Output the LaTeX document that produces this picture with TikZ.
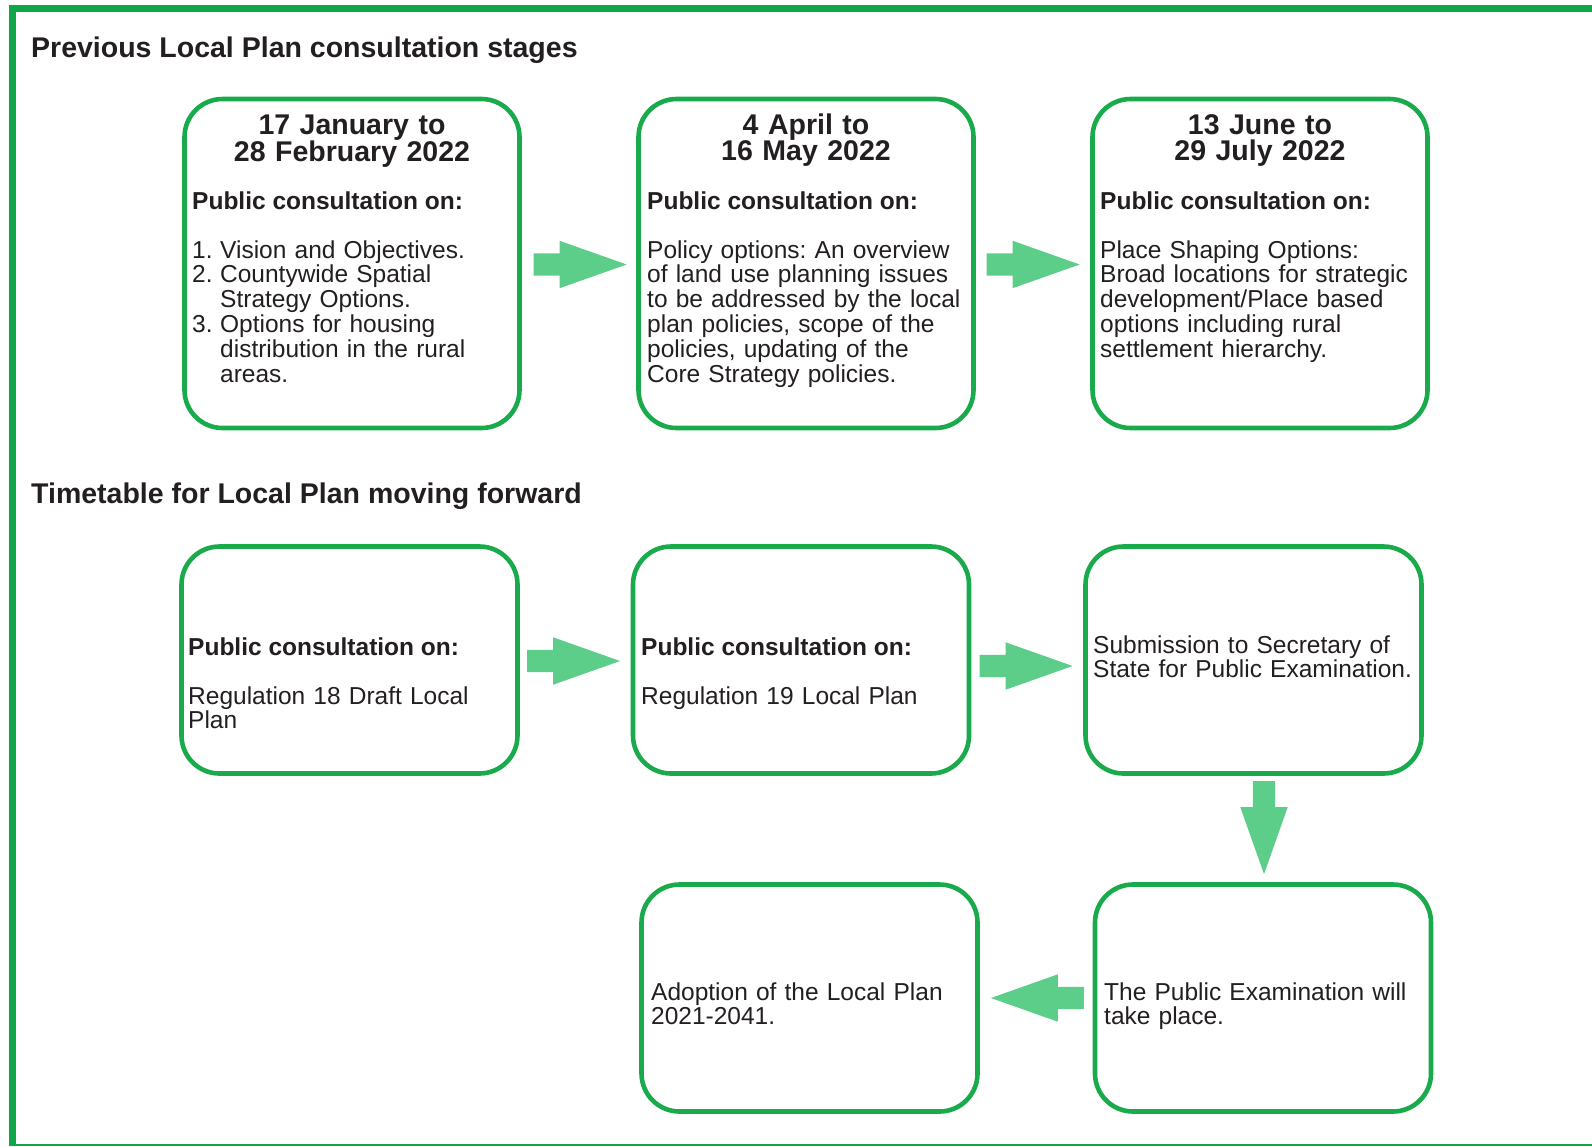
\documentclass[tikz,border=0pt]{standalone}
\usepackage{fontspec}
\setmainfont{Liberation Sans}
\usetikzlibrary{shapes.arrows,calc}
\definecolor{framegreen}{RGB}{14,166,72}
\definecolor{boxgreen}{RGB}{25,170,75}
\definecolor{arrowgreen}{RGB}{92,206,138}
\definecolor{txtc}{RGB}{35,31,32}
\tikzset{
  stagebox/.style={draw=boxgreen, line width=4.6pt, rounded corners=38pt, inner sep=0pt, fill=white},
  sectitle/.style={anchor=base west, inner sep=0pt, text=txtc, font=\bfseries\fontsize{28.5}{30}\selectfont},
  datehead/.style={anchor=base, inner sep=0pt, text=txtc, text width=330pt, align=center, font=\bfseries\fontsize{28.5}{26}\selectfont},
  leadtxt/.style={anchor=base west, inner sep=0pt, text=txtc, font=\bfseries\fontsize{24.5}{24.8}\selectfont},
  bodytxt/.style={anchor=base west, inner sep=0pt, text=txtc, text width=345pt, align=left, font=\frenchspacing\fontsize{24.5}{24.8}\selectfont},
  blockarrow/.style={single arrow, fill=arrowgreen, draw=none, inner sep=0pt, minimum height=93pt, single arrow head extend=12.5pt, single arrow tip angle=39, anchor=tip}
}
\begin{document}
\begin{tikzpicture}[x=1pt,y=-1pt]
\useasboundingbox (0,0) rectangle (1592,1146);
% frame
\draw[framegreen, line width=6.5pt] (12.5,1146) -- (12.5,8.5) -- (1592,8.5);
\draw[framegreen, line width=2pt] (12.5,1145) -- (1592,1145);

% section titles
\node[sectitle] (h1) at (31,57) {Previous Local Plan consultation stages};
\node[sectitle] (h2) at (31,503) {Timetable for Local Plan moving forward};

% row 1 boxes
\node[stagebox, minimum width=335pt, minimum height=329pt] (b1) at (352,263.5) {};
\node[stagebox, minimum width=335pt, minimum height=329pt] (b2) at (806,263.5) {};
\node[stagebox, minimum width=335pt, minimum height=329pt] (b3) at (1260,263.5) {};

% row 2 boxes
\node[stagebox, minimum width=336pt, minimum height=227pt] (b4) at (349.5,660) {};
\node[stagebox, minimum width=336pt, minimum height=227pt] (b5) at (801,660) {};
\node[stagebox, minimum width=336pt, minimum height=227pt] (b6) at (1253.5,660) {};

% row 3 boxes
\node[stagebox, minimum width=336pt, minimum height=227pt] (b7) at (809.5,998) {};
\node[stagebox, minimum width=336pt, minimum height=227pt] (b8) at (1263,998) {};

% row 1 texts
\node[datehead] (d1) at (352,134) {17 January to\\28 February 2022};
\node[datehead] (d2) at (806,134) {4 April to\\16 May 2022};
\node[datehead] (d3) at (1260,134) {13 June to\\29 July 2022};

\node[leadtxt] (p1) at (192,209) {Public consultation on:};
\node[leadtxt] (p2) at (647,209) {Public consultation on:};
\node[leadtxt] (p3) at (1100,209) {Public consultation on:};

\node[bodytxt] (x1) at (192,258) {\makebox[28pt][l]{1.}Vision and Objectives.\\
\makebox[28pt][l]{2.}Countywide Spatial\\
\hspace*{28pt}Strategy Options.\\
\makebox[28pt][l]{3.}Options for housing\\
\hspace*{28pt}distribution in the rural\\
\hspace*{28pt}areas.};
\node[bodytxt] (x2) at (647,258) {Policy options: An overview\\of land use planning issues\\to be addressed by the local\\plan policies, scope of the\\policies, updating of the\\Core Strategy policies.};
\node[bodytxt] (x3) at (1100,258) {Place Shaping Options:\\Broad locations for strategic\\development/Place based\\options including rural\\settlement hierarchy.};

% row 2 texts
\node[leadtxt] (p4) at (188,655) {Public consultation on:};
\node[bodytxt] (x4) at (188,704) {Regulation 18 Draft Local\\Plan};
\node[leadtxt] (p5) at (641,655) {Public consultation on:};
\node[bodytxt] (x5) at (641,704) {Regulation 19 Local Plan};
\node[bodytxt] (x6) at (1093,653) {Submission to Secretary of\\State for Public Examination.};

% row 3 texts
\node[bodytxt] (x7) at (651,1000) {Adoption of the Local Plan\\2021-2041.};
\node[bodytxt] (x8) at (1104,1000) {The Public Examination will\\take place.};

% block arrows (placed by their tips, short of the target box)
\node[blockarrow] (a1) at ($(b2.west)+(-9,1)$) {\rule{0pt}{22pt}};
\node[blockarrow] (a2) at ($(b3.west)+(-10,1)$) {\rule{0pt}{22pt}};
\node[blockarrow] (a3) at ($(b5.west)+(-10,1)$) {\rule{0pt}{22pt}};
\node[blockarrow] (a4) at ($(b6.west)+(-10,6)$) {\rule{0pt}{22pt}};
\node[blockarrow, rotate=-90] (a5) at ($(b8.north)+(1,-7.5)$) {\rule{0pt}{22pt}};
\node[blockarrow, rotate=180] (a6) at ($(b7.east)+(10.5,0)$) {\rule{0pt}{22pt}};
\end{tikzpicture}
\end{document}
